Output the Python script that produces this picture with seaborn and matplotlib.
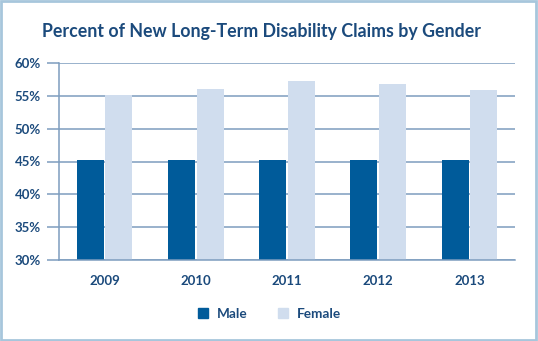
import matplotlib
matplotlib.use("Agg")
import matplotlib.pyplot as plt
import seaborn as sns
import pandas as pd
from matplotlib.patches import Rectangle
from matplotlib.lines import Line2D

years = ["2009", "2010", "2011", "2012", "2013"]
male = [45.3, 45.3, 45.3, 45.3, 45.3]
female = [55.1, 56.0, 57.2, 56.8, 55.9]
genders = ["Male", "Female"]
yticks = [30, 35, 40, 45, 50, 55, 60]
title = "Percent of New Long-Term Disability Claims by Gender"

MALE_C = "#005b9a"
FEMALE_C = "#d0ddee"
TEXT_C = "#1b4a7c"
GRID_C = "#7d9dbf"
BORDER_C = "#a7c6dc"

df = pd.DataFrame({
    "Year": years * 2,
    "Percent": male + female,
    "Gender": ["Male"] * len(years) + ["Female"] * len(years),
})

sns.set_theme(style="white")
plt.rcParams["font.family"] = ["Lato", "DejaVu Sans"]

fig = plt.figure(figsize=(5.38, 3.41), dpi=100)
ax = fig.add_axes([59 / 538, 1 - 260 / 341, (515 - 59) / 538, (260 - 63) / 341])

sns.barplot(data=df, x="Year", y="Percent", hue="Gender", hue_order=genders,
            palette=[MALE_C, FEMALE_C], width=0.63, gap=0.06,
            saturation=1, linewidth=0, ax=ax, legend=False)

ax.set_ylim(30, 60)
ax.set_xlim(-0.5, len(years) - 0.5)
ax.set_yticks(yticks)
ax.set_yticklabels([f"{v}%" for v in yticks], fontsize=9.5, fontweight="bold", color=TEXT_C)
ax.set_xticklabels(years, fontsize=9.5, fontweight="bold", color=TEXT_C)
ax.set_xlabel("")
ax.set_ylabel("")
ax.set_axisbelow(True)
ax.yaxis.grid(True, color=GRID_C, linewidth=1.1)
ax.xaxis.grid(False)
for s in ["top", "right"]:
    ax.spines[s].set_visible(False)
ax.spines["left"].set_color(GRID_C)
ax.spines["bottom"].set_color(GRID_C)
ax.spines["left"].set_linewidth(1.1)
ax.spines["bottom"].set_linewidth(1.1)
ax.tick_params(axis="y", length=9, width=1.1, color=GRID_C, pad=4, left=True)
ax.tick_params(axis="x", length=0, pad=11)

fig.text(261 / 538, 1 - 31 / 341, title, ha="center", va="center",
         fontsize=12.8, fontweight="bold", color=TEXT_C)

handles = [Line2D([], [], marker="s", linestyle="", markersize=7.5,
                  markerfacecolor=c, markeredgecolor=c) for c in [MALE_C, FEMALE_C]]
leg = fig.legend(handles, genders, loc="center", bbox_to_anchor=(268 / 538, 1 - 314 / 341),
                 ncol=2, frameon=False, handletextpad=0.45, columnspacing=2.0,
                 handlelength=1.2, prop={"size": 9.8, "weight": "bold"})
for t in leg.get_texts():
    t.set_color(TEXT_C)

fig.patches.append(Rectangle((0.002, 0.003), 0.995, 0.994, transform=fig.transFigure,
                             fill=False, edgecolor=BORDER_C, linewidth=2))

fig.savefig("out.png", dpi=100)
